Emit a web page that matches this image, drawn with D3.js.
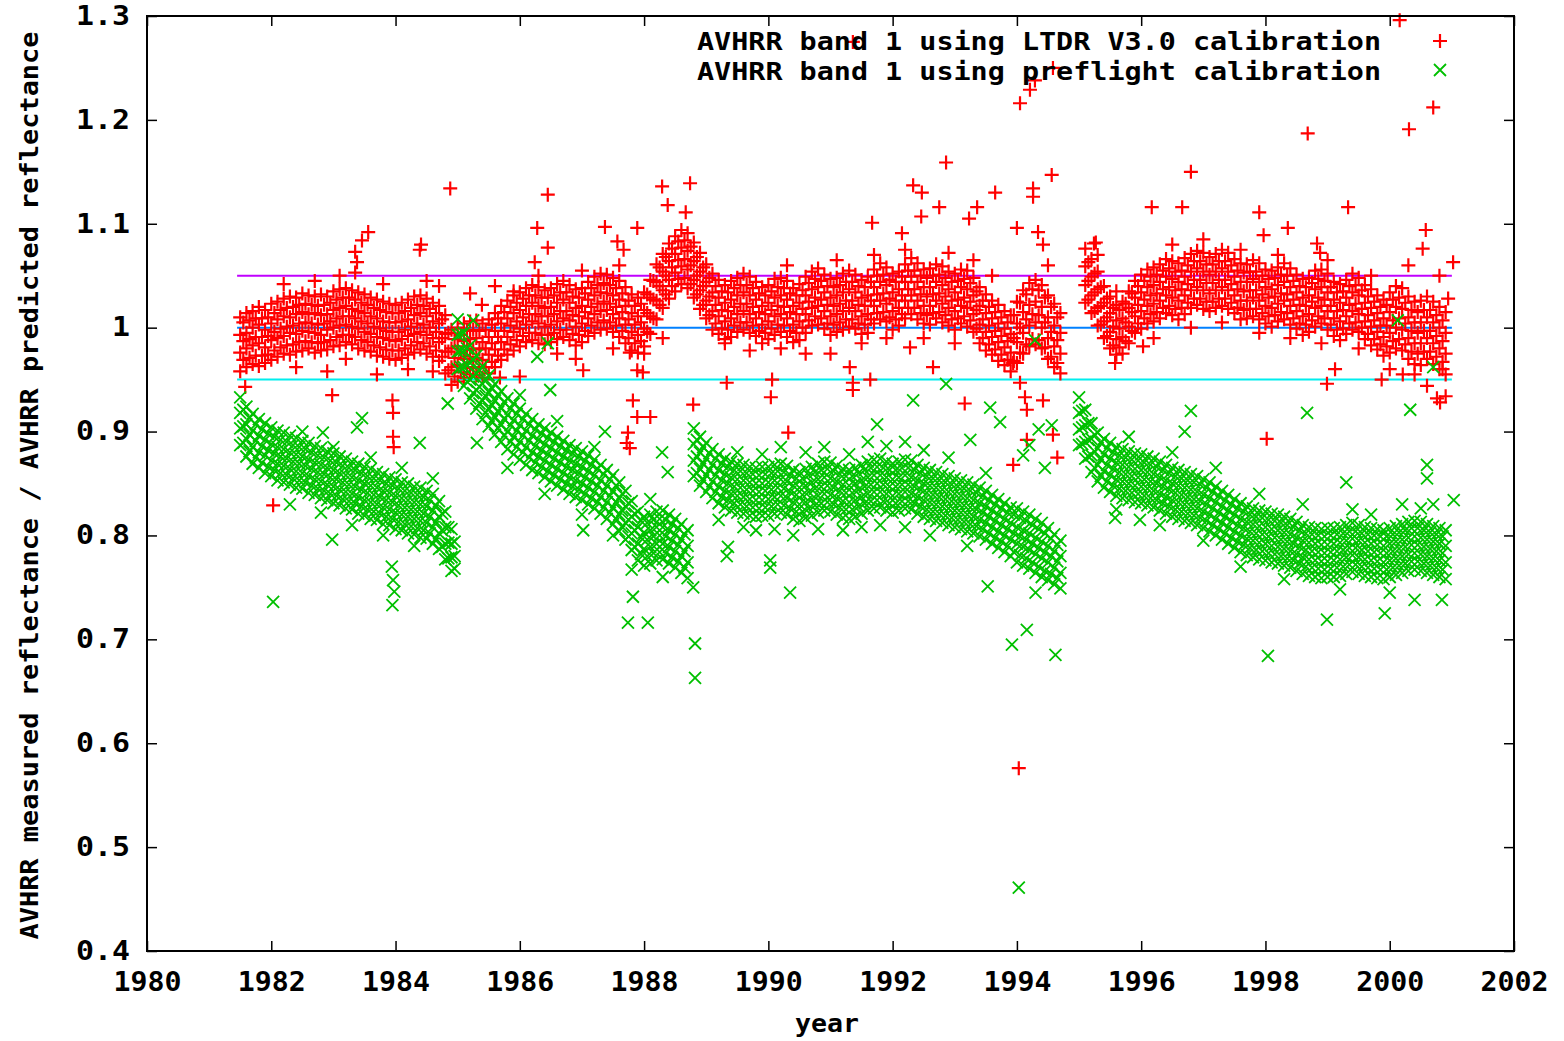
<!doctype html>
<html>
<head>
	<meta charset='utf-8'/>
	<script src="https://d3js.org/d3.v7.min.js"></script>
	<style>
		body { margin: 0; background: #fff; }
		text { font-family: "DejaVu Sans Mono", monospace; font-weight: bold; fill: #000; }
	</style>
</head>
<body>
	<svg id="chart" width="1564" height="1041"></svg>
	<script>
		// LTDR V3.0 calibration: [year, values in thousandths...]
		var ltdrRows = [
			[1981.5,958,976,993,1010],[1981.6,962,980,995,1014],[1981.7,965,983,1000,1016],[1981.8,963,985,1003,1020],[1981.9,966,981,998,1017],
			[1982.0,969,988,1004,1023],[1982.1,972,990,1008,1025],[1982.2,975,992,1011,1028],[1982.3,974,995,1010,1030],[1982.4,977,994,1013,1029],
			[1982.5,978,997,1015,1033],[1982.6,980,996,1013,1031],[1982.7,976,995,1014,1030],[1982.8,978,993,1012,1032],[1982.9,979,998,1013,1030],
			[1983.0,982,1000,1017,1035],[1983.1,983,1002,1019,1037],[1983.2,986,1003,1021,1038],[1983.3,984,1001,1018,1036],[1983.4,980,999,1016,1034],
			[1983.5,978,996,1014,1032],[1983.6,977,994,1011,1029],[1983.7,973,991,1009,1027],[1983.8,972,990,1006,1025],[1983.9,970,988,1005,1023],
			[1984.0,969,987,1005,1022],[1984.1,971,989,1006,1024],[1984.2,974,992,1008,1027],[1984.3,976,994,1012,1030],[1984.4,979,996,1014,1031],
			[1984.5,975,993,1011,1028],[1984.6,972,990,1006,1024],[1984.7,968,986,1004,1021],[1984.8,956,977,994,1012],[1984.9,945,962,980,998],
			[1985.0,948,964,982,1000],[1985.1,952,970,987,1004],[1985.2,955,972,989,1006],[1985.3,954,971,990,1007],[1985.4,952,969,986,1004],
			[1985.5,956,974,991,1008],[1985.6,962,979,997,1014],[1985.7,969,986,1004,1021],[1985.8,974,991,1009,1026],[1985.9,978,996,1014,1031],
			[1986.0,982,999,1017,1034],[1986.1,986,1003,1021,1038],[1986.2,988,1006,1024,1041],[1986.3,985,1004,1021,1039],[1986.4,984,1001,1019,1036],
			[1986.5,986,1003,1020,1038],[1986.6,989,1006,1024,1042],[1986.7,991,1009,1027,1045],[1986.8,988,1007,1024,1041],[1986.9,983,1001,1019,1037],
			[1987.0,986,1004,1021,1038],[1987.1,992,1009,1027,1044],[1987.2,995,1013,1031,1049],[1987.3,998,1016,1034,1052],[1987.4,999,1017,1033,1051],
			[1987.5,996,1013,1031,1048],[1987.6,991,1009,1027,1045],[1987.7,985,1003,1021,1039],[1987.8,978,996,1014,1032],[1987.9,976,993,1011,1029],
			[1988.0,982,999,1017,1034],[1988.1,994,1011,1029,1046],[1988.2,1008,1026,1044,1061],[1988.3,1019,1036,1054,1071],[1988.4,1028,1046,1064,1081],
			[1988.5,1035,1053,1071,1088],[1988.6,1042,1059,1077,1094],[1988.7,1038,1056,1074,1091],[1988.8,1029,1046,1064,1082],[1988.9,1018,1036,1054,1072],
			[1989.0,1009,1026,1044,1061],[1989.1,998,1016,1034,1052],[1989.2,994,1011,1029,1046],[1989.3,989,1006,1024,1041],[1989.4,991,1009,1027,1045],
			[1989.5,996,1013,1031,1048],[1989.6,998,1016,1034,1052],[1989.7,995,1013,1031,1049],[1989.8,992,1009,1027,1044],[1989.9,985,1003,1021,1039],
			[1990.0,989,1006,1024,1041],[1990.1,993,1011,1029,1047],[1990.2,996,1013,1031,1048],[1990.3,991,1009,1027,1045],[1990.4,986,1003,1021,1038],
			[1990.5,988,1006,1024,1042],[1990.6,995,1013,1031,1049],[1990.7,1002,1019,1037,1054],[1990.8,1003,1021,1039,1057],[1990.9,999,1016,1034,1051],
			[1991.0,993,1011,1029,1047],[1991.1,996,1013,1031,1048],[1991.2,998,1016,1034,1052],[1991.3,1001,1019,1037,1055],[1991.4,999,1016,1034,1051],
			[1991.5,994,1011,1029,1046],[1991.6,995,1013,1031,1049],[1991.7,1004,1021,1039,1056],[1991.8,1008,1026,1044,1062],[1991.9,1006,1023,1041,1058],
			[1992.0,998,1016,1034,1052],[1992.1,1002,1019,1037,1054],[1992.2,1009,1026,1044,1061],[1992.3,1013,1031,1049,1067],[1992.4,1008,1026,1044,1062],
			[1992.5,1004,1021,1039,1056],[1992.6,1003,1021,1039,1057],[1992.7,1009,1026,1044,1061],[1992.8,1005,1023,1041,1059],[1992.9,1002,1019,1037,1054],
			[1993.0,998,1016,1034,1052],[1993.1,1004,1021,1039,1056],[1993.2,1001,1019,1037,1055],[1993.3,996,1013,1031,1048],[1993.4,985,1003,1021,1039],
			[1993.5,978,996,1014,1032],[1993.6,974,991,1009,1026],[1993.7,968,986,1004,1022],[1993.8,964,981,999,1016],[1993.9,958,976,994,1012],
			[1994.0,966,986,1004,1025],[1994.1,975,995,1015,1036],[1994.2,982,1002,1022,1043],[1994.3,984,1005,1025,1046],[1994.4,980,1000,1020,1041],
			[1994.5,970,990,1010,1031],[1994.6,962,982,1002,1023],[1994.7,956,975,995,1014],
			[1995.1,1024,1041,1059,1076],[1995.2,1014,1031,1049,1066],[1995.3,1002,1019,1037,1054],[1995.4,990,1006,1024,1040],
			[1995.5,980,996,1014,1030],[1995.6,974,989,1007,1022],[1995.7,975,991,1009,1025],[1995.8,985,1001,1019,1035],[1995.9,995,1011,1029,1045],
			[1996.0,999,1016,1034,1051],[1996.1,1004,1021,1039,1056],[1996.2,1006,1023,1041,1058],[1996.3,1009,1026,1044,1061],[1996.4,1014,1031,1049,1066],
			[1996.5,1012,1029,1047,1064],[1996.6,1008,1026,1044,1062],[1996.7,1013,1031,1049,1067],[1996.8,1019,1036,1054,1071],[1996.9,1022,1039,1057,1074],
			[1997.0,1018,1036,1054,1072],[1997.1,1016,1033,1051,1068],[1997.2,1019,1036,1054,1071],[1997.3,1021,1039,1057,1075],[1997.4,1018,1036,1054,1072],
			[1997.5,1014,1031,1049,1066],[1997.6,1008,1026,1044,1062],[1997.7,1009,1026,1044,1061],[1997.8,1011,1029,1047,1065],[1997.9,1008,1026,1044,1062],
			[1998.0,1004,1021,1039,1056],[1998.1,1001,1019,1037,1055],[1998.2,1006,1023,1041,1058],[1998.3,1008,1026,1044,1062],[1998.4,1003,1021,1039,1057],
			[1998.5,999,1016,1034,1051],[1998.6,993,1011,1029,1047],[1998.7,996,1013,1031,1048],[1998.8,1001,1019,1037,1055],[1998.9,1004,1021,1039,1056],
			[1999.0,998,1016,1034,1052],[1999.1,992,1009,1027,1044],[1999.2,988,1006,1024,1042],[1999.3,994,1011,1029,1046],[1999.4,998,1016,1034,1052],
			[1999.5,996,1013,1031,1048],[1999.6,989,1006,1024,1041],[1999.7,983,1001,1019,1037],[1999.8,979,996,1014,1031],[1999.9,973,991,1009,1027],
			[2000.0,976,995,1015,1034],[2000.1,980,1000,1020,1040],[2000.2,978,998,1018,1038],[2000.3,970,990,1010,1030],[2000.4,965,985,1005,1025],
			[2000.5,964,985,1005,1026],[2000.6,970,990,1010,1030],[2000.7,965,985,1005,1025],[2000.8,960,980,1000,1020],[2000.9,955,975,995,1015]
		];

		// LTDR points read between the rows above
		var ltdrFill = [
			[1981.55,969,987,1005],[1981.65,971,989,1007],[1981.75,973,991,1009],[1981.85,973,991,1009],[1981.95,974,992,1010],
			[1982.05,978,996,1014],[1982.15,981,999,1017],[1982.25,983,1001,1019],[1982.35,984,1002,1020],[1982.45,986,1004,1022],
			[1982.55,987,1005,1023],[1982.65,986,1004,1022],[1982.75,985,1003,1021],[1982.85,986,1004,1022],[1982.95,988,1006,1024],
			[1983.05,991,1009,1027],[1983.15,993,1011,1029],[1983.25,993,1011,1029],[1983.35,991,1009,1027],[1983.45,988,1006,1024],
			[1983.55,986,1004,1022],[1983.65,983,1001,1019],[1983.75,981,999,1017],[1983.85,979,997,1015],[1983.95,978,996,1014],
			[1984.05,978,996,1014],[1984.15,980,998,1016],[1984.25,983,1001,1019],[1984.35,986,1004,1022],[1984.45,985,1003,1021],
			[1984.55,982,1000,1018],[1984.65,978,996,1014],[1984.75,972,990,1008],[1984.85,959,977,995],[1984.95,953,971,989],
			[1985.05,957,975,993],[1985.15,961,979,997],[1985.25,962,980,998],[1985.35,961,979,997],[1985.45,962,980,998],
			[1985.55,967,985,1003],[1985.65,973,991,1009],[1985.75,979,997,1015],[1985.85,984,1002,1020],[1985.95,988,1006,1024],
			[1986.05,992,1010,1028],[1986.15,995,1013,1031],[1986.25,995,1013,1031],[1986.35,993,1011,1029],[1986.45,993,1011,1029],
			[1986.55,995,1013,1031],[1986.65,998,1016,1034],[1986.75,998,1016,1034],[1986.85,994,1012,1030],[1986.95,993,1011,1029],
			[1987.05,997,1015,1033],[1987.15,1002,1020,1038],[1987.25,1005,1023,1041],[1987.35,1007,1025,1043],[1987.45,1005,1023,1041],
			[1987.55,1002,1020,1038],[1987.65,997,1015,1033],[1987.75,990,1008,1026],[1987.85,985,1003,1021],[1987.95,987,1005,1023],
			[1988.05,996,1014,1032],[1988.15,1009,1027,1045],[1988.25,1022,1040,1058],[1988.35,1032,1050,1068],[1988.45,1040,1058,1076],
			[1988.55,1047,1065,1083],[1988.65,1048,1066,1084],[1988.75,1042,1060,1078],[1988.85,1032,1050,1068],[1988.95,1022,1040,1058],
			[1989.05,1012,1030,1048],[1989.15,1004,1022,1040],[1989.25,999,1017,1035],[1989.35,998,1016,1034],[1989.45,1002,1020,1038],
			[1989.55,1005,1023,1041],[1989.65,1005,1023,1041],[1989.75,1002,1020,1038],[1989.85,997,1015,1033],[1989.95,995,1013,1031],
			[1990.05,999,1017,1035],[1990.15,1003,1021,1039],[1990.25,1002,1020,1038],[1990.35,997,1015,1033],[1990.45,995,1013,1031],
			[1990.55,1000,1018,1036],[1990.65,1007,1025,1043],[1990.75,1011,1029,1047],[1990.85,1009,1027,1045],[1990.95,1004,1022,1040],
			[1991.05,1003,1021,1039],[1991.15,1005,1023,1041],[1991.25,1008,1026,1044],[1991.35,1008,1026,1044],[1991.45,1004,1022,1040],
			[1991.55,1003,1021,1039],[1991.65,1008,1026,1044],[1991.75,1014,1032,1050],[1991.85,1015,1033,1051],[1991.95,1010,1028,1046],
			[1992.05,1008,1026,1044],[1992.15,1013,1031,1049],[1992.25,1019,1037,1055],[1992.35,1019,1037,1055],[1992.45,1014,1032,1050],
			[1992.55,1012,1030,1048],[1992.65,1014,1032,1050],[1992.75,1015,1033,1051],[1992.85,1012,1030,1048],[1992.95,1008,1026,1044],
			[1993.05,1009,1027,1045],[1993.15,1011,1029,1047],[1993.25,1007,1025,1043],[1993.35,999,1017,1035],[1993.45,990,1008,1026],
			[1993.55,984,1002,1020],[1993.65,979,997,1015],[1993.75,974,992,1010],[1993.85,969,987,1005],[1993.95,968,990,1012],
			[1994.05,976,1000,1024],[1994.15,984,1008,1032],[1994.25,989,1013,1037],[1994.35,988,1012,1036],[1994.45,981,1005,1029],
			[1994.55,972,996,1020],[1994.65,966,988,1010],
			[1995.15,1027,1045,1063],[1995.25,1016,1034,1052],[1995.35,1003,1021,1039],[1995.45,992,1010,1028],[1995.55,983,1001,1019],
			[1995.65,981,999,1017],[1995.75,987,1005,1023],[1995.85,997,1015,1033],[1995.95,1004,1022,1040],[1996.05,1009,1027,1045],
			[1996.15,1013,1031,1049],[1996.25,1015,1033,1051],[1996.35,1019,1037,1055],[1996.45,1021,1039,1057],[1996.55,1018,1036,1054],
			[1996.65,1019,1037,1055],[1996.75,1024,1042,1060],[1996.85,1028,1046,1064],[1996.95,1028,1046,1064],[1997.05,1025,1043,1061],
			[1997.15,1025,1043,1061],[1997.25,1028,1046,1064],[1997.35,1028,1046,1064],[1997.45,1024,1042,1060],[1997.55,1019,1037,1055],
			[1997.65,1017,1035,1053],[1997.75,1018,1036,1054],[1997.85,1018,1036,1054],[1997.95,1014,1032,1050],[1998.05,1011,1029,1047],
			[1998.15,1012,1030,1048],[1998.25,1015,1033,1051],[1998.35,1014,1032,1050],[1998.45,1009,1027,1045],[1998.55,1004,1022,1040],
			[1998.65,1003,1021,1039],[1998.75,1007,1025,1043],[1998.85,1011,1029,1047],[1998.95,1009,1027,1045],[1999.05,1003,1021,1039],
			[1999.15,998,1016,1034],[1999.25,999,1017,1035],[1999.35,1004,1022,1040],[1999.45,1005,1023,1041],[1999.55,1000,1018,1036],
			[1999.65,994,1012,1030],[1999.75,989,1007,1025],[1999.85,984,1002,1020],[1999.95,982,1002,1022],[2000.05,987,1007,1027],
			[2000.15,989,1009,1029],[2000.25,984,1004,1024],[2000.35,977,997,1017],[2000.45,975,995,1015],[2000.55,977,997,1017],
			[2000.65,977,997,1017],[2000.75,972,992,1012],[2000.85,967,987,1007]
		];

		// scattered LTDR points away from the main band: [year, value]
		var ltdrExtra = [
			[1981.58,0.943],[1982.03,0.829],[1982.98,0.935],[1983.35,1.073],[1983.35,1.053],[1983.46,1.084],[1983.56,1.092],[1983.38,1.063],
			[1983.95,0.930],[1983.96,0.918],[1983.96,0.895],[1983.97,0.885],[1984.39,1.075],[1984.41,1.080],[1984.88,1.134],
			[1985.20,1.033],[1985.39,1.022],[1985.68,0.952],[1986.00,0.953],[1986.24,1.063],[1986.28,1.096],[1986.45,1.077],[1986.45,1.128],
			[1987.02,0.959],[1987.37,1.097],[1987.57,1.083],[1987.67,1.075],[1987.89,1.096],[1987.72,0.889],[1987.74,0.899],[1987.77,0.884],
			[1987.77,0.976],[1987.82,0.930],[1987.89,0.914],[1987.89,0.959],[1987.98,0.957],[1988.10,0.914],[1988.29,1.136],[1988.38,1.118],
			[1988.74,1.139],[1988.67,1.111],[1988.79,0.926],[1989.33,0.947],[1990.04,0.933],[1990.06,0.950],[1990.32,0.899],
			[1991.31,0.962],[1991.36,0.947],[1991.36,0.940],[1991.36,1.275],[1991.64,0.950],[1991.67,1.101],[1992.15,1.091],[1992.28,0.981],
			[1992.33,1.137],[1992.46,1.107],[1992.47,1.130],[1992.65,0.962],[1992.75,1.116],[1992.86,1.159],[1993.16,0.927],[1993.23,1.105],
			[1993.36,1.116],[1993.65,1.130],[1993.94,0.966],[1993.94,0.868],[1994.00,1.096],[1994.05,0.947],[1994.05,1.216],[1994.03,0.576],
			[1994.13,0.933],[1994.16,0.921],[1994.16,0.892],[1994.21,1.229],[1994.26,1.134],[1994.26,1.126],[1994.29,1.238],[1994.34,1.092],
			[1994.42,1.080],[1994.42,0.930],[1994.56,1.147],[1994.58,1.250],[1994.58,0.897],[1994.65,0.875],
			[1995.24,1.081],[1995.27,1.082],[1995.58,0.966],[1996.03,0.982],[1996.17,1.116],[1996.66,1.116],[1996.80,1.150],[1997.90,1.111],
			[1997.97,1.089],[1998.02,0.893],[1998.36,1.096],[1998.68,1.187],[1998.83,1.081],[1998.88,1.072],[1998.99,0.946],[1999.12,0.960],
			[1999.33,1.116],[1999.87,0.950],[2000.16,1.296],[2000.21,0.955],[2000.31,1.191],[2000.53,1.076],[2000.58,1.094],[2000.60,0.944],
			[2000.70,1.212],[2000.76,0.932],[2000.81,0.928],[2000.94,1.028],[2001.02,1.063],
			// ragged band edges
			[1982.4,0.962],[1982.9,0.958],[1983.2,0.970],[1983.7,0.955],[1984.2,0.960],[1984.6,0.958],[1982.2,1.042],[1982.7,1.045],
			[1983.1,1.050],[1983.8,1.042],[1984.5,1.045],[1984.7,1.040],[1985.6,1.040],[1985.9,1.035],[1986.6,0.975],[1986.9,0.970],
			[1987.5,0.980],[1986.3,1.050],[1987.0,1.055],[1987.6,1.060],[1988.0,0.975],[1988.3,0.990],[1989.3,0.985],[1989.7,0.978],
			[1990.2,0.980],[1990.6,0.975],[1991.0,0.975],[1991.5,0.985],[1991.9,0.990],[1992.5,0.990],[1993.0,0.985],[1990.3,1.060],
			[1991.1,1.065],[1991.7,1.070],[1992.2,1.075],[1992.9,1.072],[1993.3,1.065],[1993.6,1.050],[1994.5,1.060],[1995.3,1.070],
			[1995.6,1.035],[1996.2,0.990],[1996.8,1.000],[1997.3,1.005],[1997.9,0.995],[1998.4,0.990],[1998.9,0.985],[1999.5,0.980],
			[2000.0,0.960],[2000.4,0.955],[1996.5,1.080],[1997.0,1.085],[1997.6,1.075],[1998.2,1.070],[1999.0,1.065],[1999.7,1.050],
			[2000.3,1.060],[2000.8,1.050],[2000.85,0.960],[2000.9,0.934]
		];

		// preflight calibration: [year, values in thousandths...]
		var preflightRows = [
			[1981.5,887,903,918,933],[1981.6,876,893,907,924],[1981.7,869,885,901,917],[1981.8,865,880,896,912],[1981.9,860,877,892,908],
			[1982.0,857,872,888,904],[1982.1,853,869,885,901],[1982.2,851,867,883,899],[1982.3,849,864,880,896],[1982.4,846,862,878,894],
			[1982.5,845,860,876,891],[1982.6,841,857,873,889],[1982.7,839,854,870,886],[1982.8,836,852,868,884],[1982.9,834,849,865,881],
			[1983.0,831,847,863,879],[1983.1,829,844,860,876],[1983.2,826,842,858,874],[1983.3,825,840,856,871],[1983.4,821,837,853,869],
			[1983.5,819,834,850,866],[1983.6,816,832,848,864],[1983.7,815,830,846,861],[1983.8,811,827,843,859],[1983.9,810,825,841,856],
			[1984.0,806,822,838,854],[1984.1,805,820,836,851],[1984.2,802,818,834,850],[1984.3,801,816,832,847],[1984.4,798,814,830,846],
			[1984.5,797,812,828,843],[1984.6,792,808,824,840],[1984.7,787,802,818,833],[1984.8,777,792,808,823],[1984.9,766,779,792,806],
			[1985.0,960,977,993,1008],[1985.1,944,962,978,995],[1985.2,932,950,966,983],[1985.3,922,940,956,973],[1985.4,912,930,946,963],
			[1985.5,905,922,938,954],[1985.6,897,914,930,946],[1985.7,890,907,923,939],[1985.8,883,900,916,932],[1985.9,878,895,911,927],
			[1986.0,873,890,906,922],[1986.1,868,885,901,917],[1986.2,863,880,896,912],[1986.3,860,876,892,907],[1986.4,856,872,888,903],
			[1986.5,852,868,884,899],[1986.6,848,864,880,895],[1986.7,844,860,876,891],[1986.8,840,856,872,887],[1986.9,837,853,869,884],
			[1987.0,834,850,866,881],[1987.1,830,846,862,877],[1987.2,826,842,858,873],[1987.3,821,837,853,868],[1987.4,816,832,848,863],
			[1987.5,811,827,843,858],[1987.6,804,820,836,851],[1987.7,796,812,828,843],[1987.8,786,802,818,833],[1987.9,776,792,808,823],
			[1988.0,771,787,803,818],[1988.1,773,789,805,820],[1988.2,776,792,808,823],[1988.3,777,792,808,824],[1988.4,773,789,805,820],
			[1988.5,769,785,801,816],[1988.6,764,780,796,811],[1988.7,759,774,790,805],
			[1988.8,857,872,888,903],[1988.9,848,864,880,895],[1989.0,842,858,874,889],[1989.1,836,852,868,883],[1989.2,831,847,863,878],
			[1989.3,827,843,859,874],[1989.4,824,840,856,871],[1989.5,822,838,854,869],[1989.6,821,837,853,868],[1989.7,819,835,851,866],
			[1989.8,818,834,850,865],[1989.9,819,834,850,866],[1990.0,819,835,851,866],[1990.1,821,837,853,868],[1990.2,822,838,854,869],
			[1990.3,820,836,852,867],[1990.4,816,832,848,863],[1990.5,814,830,846,861],[1990.6,817,832,848,864],[1990.7,819,835,851,866],
			[1990.8,822,838,854,869],[1990.9,824,840,856,871],[1991.0,823,839,855,870],[1991.1,820,836,852,867],[1991.2,817,833,849,864],
			[1991.3,816,832,848,863],[1991.4,818,834,850,865],[1991.5,821,837,853,868],[1991.6,824,840,856,871],[1991.7,826,842,858,873],
			[1991.8,827,842,858,874],[1991.9,824,840,856,871],[1992.0,822,838,854,869],[1992.1,824,840,856,871],[1992.2,826,842,858,873],
			[1992.3,825,840,856,872],[1992.4,821,837,853,868],[1992.5,818,834,850,865],[1992.6,816,832,848,863],[1992.7,814,830,846,861],
			[1992.8,812,828,844,859],[1992.9,810,826,842,857],[1993.0,808,824,840,855],[1993.1,806,822,838,853],[1993.2,804,820,836,851],
			[1993.3,802,818,834,849],[1993.4,799,815,831,846],[1993.5,796,812,828,843],[1993.6,792,808,824,839],[1993.7,788,804,820,835],
			[1993.8,784,800,816,831],[1993.9,780,796,812,827],[1994.0,774,792,808,826],[1994.1,771,789,805,823],[1994.2,768,786,802,820],
			[1994.3,764,782,798,816],[1994.4,760,778,794,812],[1994.5,757,774,790,807],[1994.6,753,769,785,801],[1994.7,749,764,780,795],
			[1995.0,887,902,918,933],[1995.1,874,890,906,921],[1995.2,861,877,893,908],[1995.3,852,868,884,899],[1995.4,846,862,878,893],
			[1995.5,842,858,874,889],[1995.6,838,854,870,885],[1995.7,836,852,868,883],[1995.8,834,850,866,881],[1995.9,832,848,864,879],
			[1996.0,831,847,863,878],[1996.1,829,845,861,876],[1996.2,827,843,859,874],[1996.3,824,840,856,871],[1996.4,821,837,853,868],
			[1996.5,818,834,850,865],[1996.6,816,832,848,863],[1996.7,814,830,846,861],[1996.8,812,828,844,859],[1996.9,810,826,842,857],
			[1997.0,807,823,839,854],[1997.1,804,820,836,851],[1997.2,800,816,832,847],[1997.3,796,812,828,843],[1997.4,792,808,824,839],
			[1997.5,788,804,820,835],[1997.6,784,800,816,831],[1997.7,781,797,813,828],[1997.8,779,795,811,826],[1997.9,777,793,809,824],
			[1998.0,776,792,808,823],[1998.1,774,790,806,821],[1998.2,773,789,805,820],[1998.3,771,787,803,818],[1998.4,769,785,801,816],
			[1998.5,766,782,798,813],[1998.6,763,779,795,810],[1998.7,761,777,793,808],[1998.8,760,776,792,807],[1998.9,759,775,791,806],
			[1999.0,760,775,791,807],[1999.1,760,776,792,807],[1999.2,761,777,793,808],[1999.3,763,779,795,810],[1999.4,765,781,797,812],
			[1999.5,763,779,795,810],[1999.6,761,777,793,808],[1999.7,760,776,792,807],[1999.8,759,775,791,806],[1999.9,758,774,790,805],
			[2000.0,760,776,792,807],[2000.1,762,778,794,809],[2000.2,764,780,796,811],[2000.3,766,782,798,813],[2000.4,767,783,799,814],
			[2000.5,766,782,798,813],[2000.6,764,780,796,811],[2000.7,762,778,794,809],[2000.8,760,776,792,807],[2000.9,758,774,790,805]
		];

		// preflight points read between the rows above
		var preflightFill = [
			[1981.55,889,905,921],[1981.65,881,897,913],[1981.75,875,891,907],[1981.85,870,886,902],[1981.95,866,882,898],
			[1982.05,863,879,895],[1982.15,860,876,892],[1982.25,858,874,890],[1982.35,855,871,887],[1982.45,853,869,885],
			[1982.55,851,867,883],[1982.65,848,864,880],[1982.75,845,861,877],[1982.85,843,859,875],[1982.95,840,856,872],
			[1983.05,838,854,870],[1983.15,835,851,867],[1983.25,833,849,865],[1983.35,831,847,863],[1983.45,828,844,860],
			[1983.55,825,841,857],[1983.65,823,839,855],[1983.75,821,837,853],[1983.85,818,834,850],[1983.95,816,832,848],
			[1984.05,813,829,845],[1984.15,811,827,843],[1984.25,809,825,841],[1984.35,807,823,839],[1984.45,805,821,837],
			[1984.55,802,818,834],[1984.65,797,813,829],[1984.75,789,805,821],[1984.85,778,793,808],[1984.95,768,780,794],
			[1985.05,962,978,994],[1985.15,948,964,980],[1985.25,937,953,969],[1985.35,927,943,959],[1985.45,918,934,950],
			[1985.55,910,926,942],[1985.65,903,919,935],[1985.75,896,912,928],[1985.85,890,906,922],[1985.95,885,901,917],
			[1986.05,880,896,912],[1986.15,875,891,907],[1986.25,870,886,902],[1986.35,866,882,898],[1986.45,862,878,894],
			[1986.55,858,874,890],[1986.65,854,870,886],[1986.75,850,866,882],[1986.85,847,863,879],[1986.95,844,860,876],
			[1987.05,840,856,872],[1987.15,836,852,868],[1987.25,832,848,864],[1987.35,827,843,859],[1987.45,822,838,854],
			[1987.55,816,832,848],[1987.65,808,824,840],[1987.75,799,815,831],[1987.85,789,805,821],[1987.95,782,798,814],
			[1988.05,780,796,812],[1988.15,783,799,815],[1988.25,784,800,816],[1988.35,783,799,815],[1988.45,779,795,811],
			[1988.55,775,791,807],[1988.65,769,785,801],
			[1988.85,860,876,892],[1988.95,853,869,885],[1989.05,847,863,879],[1989.15,842,858,874],[1989.25,837,853,869],
			[1989.35,834,850,866],[1989.45,831,847,863],[1989.55,830,846,862],[1989.65,828,844,860],[1989.75,827,843,859],
			[1989.85,826,842,858],[1989.95,827,843,859],[1990.05,828,844,860],[1990.15,830,846,862],[1990.25,829,845,861],
			[1990.35,826,842,858],[1990.45,823,839,855],[1990.55,823,839,855],[1990.65,826,842,858],[1990.75,829,845,861],
			[1990.85,831,847,863],[1990.95,832,848,864],[1991.05,830,846,862],[1991.15,827,843,859],[1991.25,825,841,857],
			[1991.35,825,841,857],[1991.45,828,844,860],[1991.55,831,847,863],[1991.65,833,849,865],[1991.75,834,850,866],
			[1991.85,833,849,865],[1991.95,831,847,863],[1992.05,831,847,863],[1992.15,833,849,865],[1992.25,833,849,865],
			[1992.35,831,847,863],[1992.45,828,844,860],[1992.55,825,841,857],[1992.65,823,839,855],[1992.75,821,837,853],
			[1992.85,819,835,851],[1992.95,817,833,849],[1993.05,815,831,847],[1993.15,813,829,845],[1993.25,811,827,843],
			[1993.35,809,825,841],[1993.45,806,822,838],[1993.55,802,818,834],[1993.65,798,814,830],[1993.75,794,810,826],
			[1993.85,790,806,822],[1993.95,784,802,820],[1994.05,781,799,817],[1994.15,778,796,814],[1994.25,774,792,810],
			[1994.35,770,788,806],[1994.45,766,784,802],[1994.55,763,780,797],[1994.65,759,775,791],
			[1995.05,888,904,920],[1995.15,876,892,908],[1995.25,865,881,897],[1995.35,857,873,889],[1995.45,852,868,884],
			[1995.55,848,864,880],[1995.65,845,861,877],[1995.75,843,859,875],[1995.85,841,857,873],[1995.95,840,856,872],
			[1996.05,838,854,870],[1996.15,836,852,868],[1996.25,834,850,866],[1996.35,831,847,863],[1996.45,828,844,860],
			[1996.55,825,841,857],[1996.65,823,839,855],[1996.75,821,837,853],[1996.85,819,835,851],[1996.95,817,833,849],
			[1997.05,814,830,846],[1997.15,810,826,842],[1997.25,806,822,838],[1997.35,802,818,834],[1997.45,798,814,830],
			[1997.55,794,810,826],[1997.65,791,807,823],[1997.75,788,804,820],[1997.85,786,802,818],[1997.95,785,801,817],
			[1998.05,783,799,815],[1998.15,782,798,814],[1998.25,780,796,812],[1998.35,778,794,810],[1998.45,776,792,808],
			[1998.55,773,789,805],[1998.65,770,786,802],[1998.75,769,785,801],[1998.85,768,784,800],[1998.95,767,783,799],
			[1999.05,768,784,800],[1999.15,769,785,801],[1999.25,770,786,802],[1999.35,772,788,804],[1999.45,772,788,804],
			[1999.55,770,786,802],[1999.65,769,785,801],[1999.75,768,784,800],[1999.85,767,783,799],[1999.95,767,783,799],
			[2000.05,769,785,801],[2000.15,771,787,803],[2000.25,773,789,805],[2000.35,775,791,807],[2000.45,775,791,807],
			[2000.55,773,789,805],[2000.65,771,787,803],[2000.75,769,785,801],[2000.85,767,783,799]
		];

		// scattered preflight points: [year, value]
		var preflightExtra = [
			[1982.03,0.736],[1982.83,0.899],[1982.98,0.796],[1983.38,0.904],[1983.46,0.913],[1983.94,0.770],[1983.96,0.757],[1983.98,0.746],
			[1983.95,0.733],[1984.39,0.889],[1984.84,0.927],[1985.25,1.007],[1985.31,0.889],[1986.28,0.972],[1986.45,0.985],[1986.49,0.940],
			[1987.02,0.805],[1987.37,0.900],[1987.74,0.716],[1987.80,0.767],[1987.82,0.741],[1988.06,0.716],[1988.29,0.880],[1988.38,0.861],
			[1988.79,0.750],[1988.82,0.696],[1988.82,0.663],[1989.33,0.780],[1989.35,0.789],[1990.03,0.776],[1990.03,0.769],[1990.35,0.745],
			[1991.75,0.907],[1992.33,0.930],[1992.86,0.946],[1993.25,0.892],[1993.53,0.751],[1993.57,0.923],[1993.73,0.909],[1993.92,0.695],
			[1994.03,0.461],[1994.10,0.877],[1994.16,0.709],[1994.20,0.887],[1994.29,0.988],[1994.35,0.902],[1994.45,0.865],[1994.56,0.906],
			[1994.62,0.685],[1995.58,0.817],[1995.98,0.815],[1996.70,0.900],[1996.80,0.920],[1998.04,0.684],[1998.67,0.918],[1998.99,0.719],
			[1999.30,0.851],[1999.92,0.725],[2000.13,1.007],[2000.33,0.921],[2000.40,0.738],[2000.60,0.868],[2000.60,0.855],[2000.70,0.962],
			[2000.84,0.738],[2001.03,0.834],
			// ragged band edges
			[1982.3,0.830],[1982.8,0.822],[1983.3,0.810],[1983.8,0.800],[1984.3,0.790],[1982.5,0.900],[1983.0,0.885],[1983.6,0.875],
			[1984.1,0.865],[1984.6,0.855],[1985.8,0.865],[1986.4,0.840],[1987.0,0.820],[1987.5,0.800],[1986.0,0.935],[1986.6,0.910],
			[1987.2,0.885],[1988.3,0.760],[1988.1,0.835],[1989.2,0.815],[1989.6,0.808],[1989.8,0.805],[1990.1,0.806],[1990.4,0.800],
			[1990.8,0.806],[1991.2,0.805],[1991.5,0.808],[1991.8,0.810],[1992.2,0.808],[1992.6,0.800],[1993.2,0.790],[1989.5,0.880],
			[1989.9,0.878],[1990.2,0.885],[1990.6,0.880],[1990.9,0.885],[1991.3,0.878],[1991.6,0.890],[1991.9,0.886],[1992.2,0.890],
			[1992.5,0.882],[1992.9,0.875],[1993.5,0.860],[1994.3,0.745],[1995.6,0.825],[1996.3,0.810],[1997.0,0.795],[1997.6,0.770],
			[1998.3,0.758],[1999.2,0.748],[2000.0,0.745],[1995.8,0.895],[1996.5,0.880],[1997.2,0.865],[1997.9,0.840],[1998.6,0.830],
			[1999.4,0.825],[1999.7,0.820],[2000.2,0.830],[2000.5,0.826],[2000.7,0.830]
		];

		var refLevels = [1.05, 1.0, 0.95];
		var refColors = ["#c000ff", "#0080ff", "#00eeee"];
		var refStart = 1981.45, refEnd = 2001.0;

		var xTicks = [1980, 1982, 1984, 1986, 1988, 1990, 1992, 1994, 1996, 1998, 2000, 2002];
		var yTicks = [0.4, 0.5, 0.6, 0.7, 0.8, 0.9, 1.0, 1.1, 1.2, 1.3];
		var legendLabels = ["AVHRR band 1 using LTDR V3.0 calibration", "AVHRR band 1 using preflight calibration"];
		var seriesColors = ["#ff0000", "#00c000"];

		var plotL = 147, plotR = 1514, plotT = 16, plotB = 951;

		var x = d3.scaleLinear().domain([1980, 2002]).range([plotL, plotR]);
		var y = d3.scaleLinear().domain([0.4, 1.3]).range([plotB, plotT]);

		var svg = d3.select("#chart");
		svg.append("rect").attr("width", 1564).attr("height", 1041).attr("fill", "#fff");

		function flatten(rows) {
			var out = [];
			rows.forEach(function(r) {
				for (var i = 1; i < r.length; i++) out.push([r[0], r[i] / 1000]);
			});
			return out;
		}

		var plusPath = "M-7,0H7M0,-7V7";
		var crossPath = "M-6,-6L6,6M-6,6L6,-6";

		var ltdrPts = flatten(ltdrRows).concat(flatten(ltdrFill), ltdrExtra);
		var prePts = flatten(preflightRows).concat(flatten(preflightFill), preflightExtra);

		// reference lines
		svg.append("g").selectAll("line")
			.data(refLevels)
			.enter().append("line")
			.attr("x1", x(refStart)).attr("x2", x(refEnd))
			.attr("y1", function(d) { return y(d); })
			.attr("y2", function(d) { return y(d); })
			.attr("stroke", function(d, i) { return refColors[i]; })
			.attr("stroke-width", 2);

		svg.append("g").selectAll("path")
			.data(ltdrPts)
			.enter().append("path")
			.attr("d", plusPath)
			.attr("transform", function(d) { return "translate(" + x(d[0]) + "," + y(d[1]) + ")"; })
			.attr("stroke", seriesColors[0])
			.attr("stroke-width", 2.2)
			.attr("fill", "none");

		svg.append("g").selectAll("path")
			.data(prePts)
			.enter().append("path")
			.attr("d", crossPath)
			.attr("transform", function(d) { return "translate(" + x(d[0]) + "," + y(d[1]) + ")"; })
			.attr("stroke", seriesColors[1])
			.attr("stroke-width", 1.8)
			.attr("fill", "none");

		// axes with inward ticks, mirrored on top and right
		var fmt = function(d) { return d === 1 ? "1" : d.toFixed(1); };

		var xAxis = svg.append("g").attr("transform", "translate(0," + plotB + ")")
			.call(d3.axisBottom(x).tickValues(xTicks).tickSizeInner(-10).tickSizeOuter(0).tickPadding(22).tickFormat(d3.format("d")));
		var xAxisTop = svg.append("g").attr("transform", "translate(0," + plotT + ")")
			.call(d3.axisTop(x).tickValues(xTicks).tickSizeInner(-10).tickSizeOuter(0).tickFormat(""));
		var yAxis = svg.append("g").attr("transform", "translate(" + plotL + ",0)")
			.call(d3.axisLeft(y).tickValues(yTicks).tickSizeInner(-10).tickSizeOuter(0).tickPadding(17).tickFormat(fmt));
		var yAxisRight = svg.append("g").attr("transform", "translate(" + plotR + ",0)")
			.call(d3.axisRight(y).tickValues(yTicks).tickSizeInner(-10).tickSizeOuter(0).tickFormat(""));

		[xAxis, xAxisTop, yAxis, yAxisRight].forEach(function(g) {
			g.select(".domain").remove();
			g.selectAll(".tick line").attr("stroke", "#000").attr("stroke-width", 1.5);
			g.selectAll("text").attr("font-family", "DejaVu Sans Mono").attr("font-weight", "bold")
				.attr("font-size", 26).attr("fill", "#000");
		});
		xAxis.selectAll("text").attr("textLength", 68).attr("lengthAdjust", "spacingAndGlyphs");
		yAxis.selectAll("text").attr("textLength", function(d) { return fmt(d).length * 18; }).attr("lengthAdjust", "spacingAndGlyphs");

		// frame
		svg.append("rect")
			.attr("x", plotL).attr("y", plotT)
			.attr("width", plotR - plotL).attr("height", plotB - plotT)
			.attr("fill", "none").attr("stroke", "#000").attr("stroke-width", 2);

		// axis titles
		svg.append("text")
			.attr("transform", "translate(38," + ((plotT + plotB) / 2 + 2) + ") rotate(-90)")
			.attr("text-anchor", "middle")
			.attr("font-size", 24)
			.attr("textLength", 908).attr("lengthAdjust", "spacingAndGlyphs")
			.text("AVHRR measured reflectance / AVHRR predicted reflectance");

		svg.append("text")
			.attr("x", 827).attr("y", 1032)
			.attr("text-anchor", "middle")
			.attr("font-size", 24)
			.attr("textLength", 64).attr("lengthAdjust", "spacingAndGlyphs")
			.text("year");

		// legend
		var legend = svg.append("g");
		legendLabels.forEach(function(lab, i) {
			legend.append("text")
				.attr("x", 1381).attr("y", 50 + i * 30)
				.attr("text-anchor", "end")
				.attr("font-size", 25)
				.attr("textLength", 684).attr("lengthAdjust", "spacingAndGlyphs")
				.text(lab);
			legend.append("path")
				.attr("d", i === 0 ? plusPath : crossPath)
				.attr("transform", "translate(1440," + (41 + i * 29) + ")")
				.attr("stroke", seriesColors[i])
				.attr("stroke-width", i === 0 ? 2.2 : 1.8)
				.attr("fill", "none");
		});
	</script>
</body>
</html>
